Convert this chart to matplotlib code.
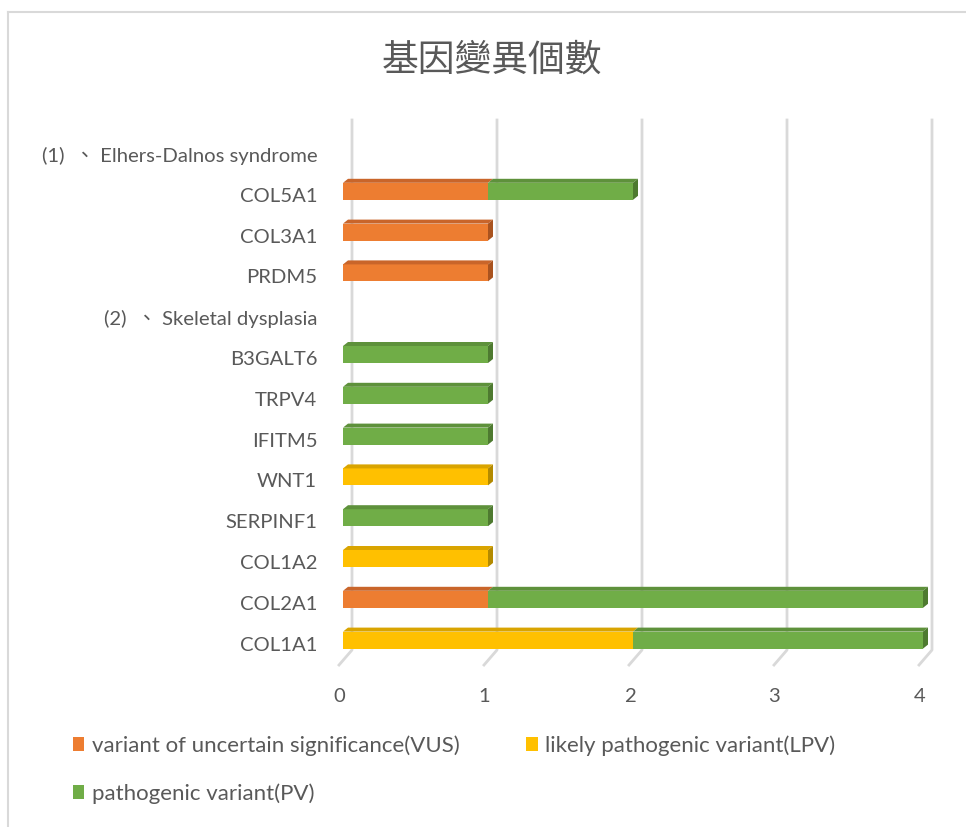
import matplotlib
matplotlib.use("Agg")
import matplotlib.pyplot as plt
from matplotlib.patches import Patch, Polygon
from matplotlib.lines import Line2D
from matplotlib.transforms import IdentityTransform, ScaledTranslation
import numpy as np

plt.rcParams['font.family'] = ['Lato', 'Noto Sans CJK TC', 'DejaVu Sans']

# data (top -> bottom)
genes = ["(1)  \u3001 Elhers-Dalnos syndrome", "COL5A1", "COL3A1", "PRDM5",
         "(2)  \u3001 Skeletal dysplasia", "B3GALT6", "TRPV4", "IFITM5", "WNT1",
         "SERPINF1", "COL1A2", "COL2A1", "COL1A1"]
vus = [0, 1, 1, 1, 0, 0, 0, 0, 0, 0, 0, 1, 0]
lpv = [0, 0, 0, 0, 0, 0, 0, 0, 1, 0, 1, 0, 2]
pv  = [0, 1, 0, 0, 0, 1, 1, 1, 0, 1, 0, 3, 2]
series_names = ["variant of uncertain significance(VUS)",
                "likely pathogenic variant(LPV)",
                "pathogenic variant(PV)"]
xticks = [0, 1, 2, 3, 4]

W, H = 966, 827
front = ["#ED7D31", "#FFC000", "#70AD47"]
top = ["#C9652A", "#D9A400", "#5E913B"]
side = ["#A9531F", "#B38A00", "#4E7A30"]
txt = "#595959"

fig = plt.figure(figsize=(W / 100, H / 100), dpi=100)
ax = fig.add_axes([343 / W, (H - 670) / H, 580 / W, 550 / H])
row_px = 40.8
ax.set_xlim(0, 4)
ax.set_ylim((670 - 154) / row_px, (120 - 154) / row_px)
for s in ax.spines.values():
    s.set_visible(False)

# outer frame of the chart
fig.add_artist(Line2D([8 / W, 1], [1 - 12 / H, 1 - 12 / H], color="#D9D9D9", lw=1.5))
fig.add_artist(Line2D([8 / W, 8 / W], [0, 1 - 12 / H], color="#D9D9D9", lw=1.5))

fig.canvas.draw()
T = ax.transData
ident = IdentityTransform()

# back-wall grid lines with floor
for xv in xticks:
    xd = T.transform((xv, 0))[0]
    ax.add_line(Line2D([xd + 9, xd + 9, xd - 4], [H - 120, H - 650, H - 665],
                       transform=ident, color="#D9D9D9", lw=2, zorder=1, clip_on=False))

rows = np.arange(len(genes))
bh = 17 / row_px
yoff = -3.5 / row_px
dx, dy = 5, 4
stack = [vus, lpv, pv]
left = np.zeros(len(genes))
for k, vals in enumerate(stack):
    vals = np.array(vals, dtype=float)
    ax.barh(rows + yoff, vals, height=bh, left=left, color=front[k], zorder=3)
    for i in rows:
        if vals[i] <= 0:
            continue
        x0, x1 = left[i], left[i] + vals[i]
        (px0, pyt) = T.transform((x0, i + yoff - bh / 2))
        (px1, pyb) = T.transform((x1, i + yoff + bh / 2))
        ax.add_patch(Polygon([(px0, pyt), (px1, pyt), (px1 + dx, pyt + dy), (px0 + dx, pyt + dy)],
                             closed=True, transform=ident, facecolor=top[k], edgecolor="none",
                             zorder=4, clip_on=False))
        later = sum(stack[j][i] for j in range(k + 1, 3))
        if later == 0:
            ax.add_patch(Polygon([(px1, pyb), (px1, pyt), (px1 + dx, pyt + dy), (px1 + dx, pyb + dy)],
                                 closed=True, transform=ident, facecolor=side[k], edgecolor="none",
                                 zorder=4, clip_on=False))
    left = left + vals

ax.set_yticks(rows)
ax.set_yticklabels(genes, fontsize=14.6, color=txt)
ax.set_xticks(xticks)
ax.set_xticklabels([str(v) for v in xticks], fontsize=14.6, color=txt)
ax.tick_params(axis="y", length=0, pad=18.5)
ax.tick_params(axis="x", length=0, pad=13)
shift = ScaledTranslation(-2.5 / 72, 0, fig.dpi_scale_trans)
for lab in ax.get_xticklabels():
    lab.set_transform(lab.get_transform() + shift)

fig.text(492 / W, 1 - 60 / H, "基因變異個數", ha="center", va="center", fontsize=26.5,
         color=txt, family=["Noto Sans CJK TC"], fontweight="light")

handles = [Patch(facecolor=front[0]), Patch(facecolor=front[2]), Patch(facecolor=front[1])]
labels = [series_names[0], series_names[2], series_names[1]]
leg = fig.legend(handles, labels, ncol=2, loc="upper left",
                 bbox_to_anchor=(62 / W, 1 - 724 / H), frameon=False, fontsize=16,
                 handlelength=0.5, handleheight=0.6, handletextpad=0.35,
                 labelspacing=1.25, columnspacing=3.0, borderpad=0)
for t in leg.get_texts():
    t.set_color(txt)

fig.savefig("out.png", dpi=100)
